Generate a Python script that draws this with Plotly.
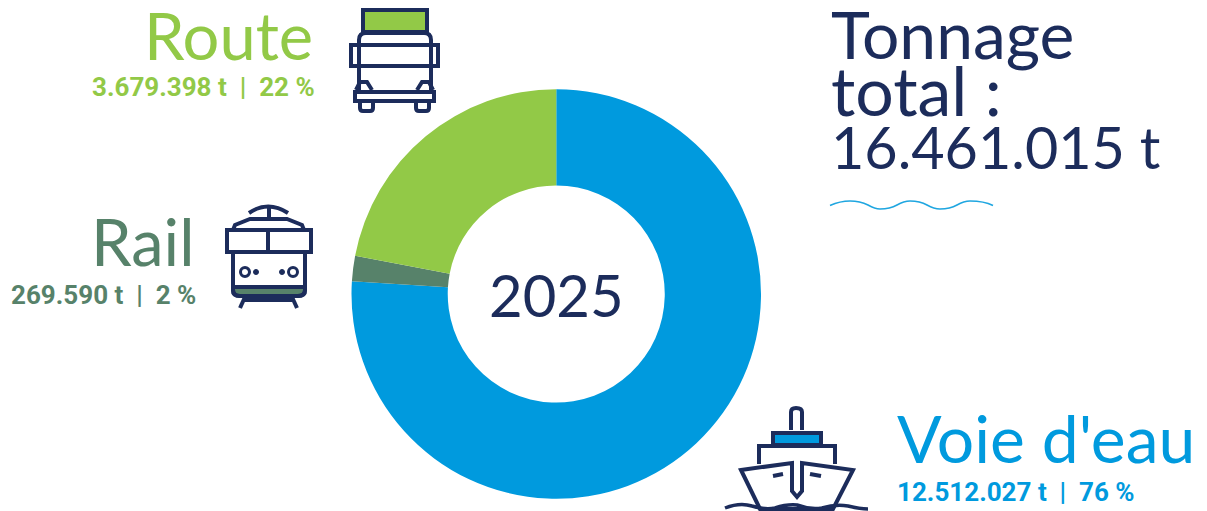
import plotly.graph_objects as go

categories = ["Voie d'eau", "Rail", "Route"]
tonnage = [12512027, 269590, 3679398]
share_pct = [76, 2, 22]
colors = ["#009ADE", "#57826A", "#92C947"]
stats = ["12.512.027 t  |  76 %", "269.590 t  |  2 %", "3.679.398 t  |  22 %"]
total_lines = ["Tonnage", "total :", "16.461.015 t"]
year = "2025"

W, H = 1207, 511
NAVY = "#1C2C5B"
BLUE, RAIL, ROAD = colors
TITLE_FONT = "Lato"
STAT_FONT = "Roboto"

fig = go.Figure(go.Pie(
    labels=categories, values=share_pct, customdata=tonnage, hole=0.53, sort=False,
    direction="clockwise", rotation=0, textinfo="none",
    hovertemplate="%{label}: %{customdata} t<extra></extra>",
    marker=dict(colors=colors, line=dict(width=0)),
    domain=dict(x=[351.5 / W, 761 / W], y=[1 - 499 / H, 1 - 89 / H]),
    showlegend=False,
))

shapes = []
def path(d, fill=None, color=NAVY, width=4):
    shapes.append(dict(type="path", path=d, xref="x", yref="y", layer="above",
                       fillcolor=fill or "rgba(0,0,0,0)",
                       line=dict(color=color, width=width)))
def rect(x0, y0, x1, y1, fill=None, width=4):
    path(f"M{x0},{y0} L{x1},{y0} L{x1},{y1} L{x0},{y1} Z", fill, NAVY, width)
def circle(cx, cy, r, fill=None, width=3):
    shapes.append(dict(type="circle", xref="x", yref="y", layer="above",
                       x0=cx - r, x1=cx + r, y0=cy - r, y1=cy + r,
                       fillcolor=fill or "rgba(0,0,0,0)",
                       line=dict(color=NAVY, width=width)))

# truck
rect(363, 10, 427, 32, ROAD)
path("M359,92 L359,40 Q359,33 366,33 L424,33 Q431,33 431,40 L431,92")
rect(351, 45, 438, 66)
rect(355, 92, 434, 101)
path("M356,90 L360,82 L367,82 L372,90")
path("M417,90 L422,82 L429,82 L433,90")
path("M360,102 L360,108 Q360,111 363,111 L370,111 Q373,111 373,108 L373,102")
path("M416,102 L416,108 Q416,111 419,111 L426,111 Q429,111 429,108 L429,102")

# train
path("M249,213 Q268,200 288,213")
path("M269,206 L269,219")
path("M233,230 L235,225 L250,219 L287,219 L302,225 L304,230")
rect(227, 230, 311, 252)
path("M268,230 L268,252")
path("M233,287 L305,287 L305,290 Q305,296 298,296 L240,296 Q233,296 233,290 Z", RAIL)
path("M233,252 L233,290 Q233,296 240,296 L298,296 Q305,296 305,290 L305,252")
circle(245, 272, 4.5)
circle(256, 272, 2.5, NAVY, 1)
circle(282, 272, 2.5, NAVY, 1)
circle(293, 272, 4.5)
path("M244,300 L292,300")
path("M245,297 L240,308")
path("M292,297 L297,308")

# ship
path("M791,430 L791,412 Q791,408 796,408 Q802,408 802,412 L802,430")
rect(773, 433, 821, 445, BLUE)
path("M759,464 L759,446 L835,446 L835,464")
path("M741,470 L792,463 L792,491 L797,497 L802,491 L802,463 L853,470 L833,509 L760,509 Z")
path("M773,476 L783,474")
path("M810,474 L821,476")
path("M725,508 Q740,502 752,506 Q765,510 775,508 Q787,504 797,505 Q810,510 822,508 "
     "Q835,504 848,506 Q860,509 868,509", width=3.5)

# wave under the total
path("M830,205.5 Q840,201 850,201 Q860,201 868,205 Q875,209 880,209 Q890,209 897,205 "
     "Q904,201 910,201 Q920,201 927,205 Q934,209 940,209 Q950,209 957,205 "
     "Q964,201 970,201 Q984,201 993,205.5", color="#1FA6E0", width=1.6)

def text(x, y, s, size, color, anchor, family):
    fig.add_annotation(x=x, y=y, text=s, xref="x", yref="y", xanchor=anchor, yanchor="middle",
                       showarrow=False, font=dict(family=family, size=size, color=color))

text(315, 35, categories[2], 65, ROAD, "right", TITLE_FONT)
text(196, 241, categories[1], 65, RAIL, "right", TITLE_FONT)
text(895, 437, categories[0], 66, BLUE, "left", TITLE_FONT)
text(317, 87, "<b>%s</b>" % stats[2], 26, ROAD, "right", STAT_FONT)
text(198, 295, "<b>%s</b>" % stats[1], 26, RAIL, "right", STAT_FONT)
text(895, 492, "<b>%s</b>" % stats[0], 26, BLUE, "left", STAT_FONT)
for line, y, size in zip(total_lines, [33, 89, 146], [66, 68, 57.5]):
    text(829, y, line, size, NAVY, "left", TITLE_FONT)
text(556, 294, year, 58, NAVY, "center", TITLE_FONT)

fig.update_layout(
    width=W, height=H, margin=dict(l=0, r=0, t=0, b=0), autosize=False,
    paper_bgcolor="white", plot_bgcolor="white", shapes=shapes,
    xaxis=dict(range=[0, W], visible=False, domain=[0, 1], fixedrange=True),
    yaxis=dict(range=[H, 0], visible=False, domain=[0, 1], fixedrange=True),
)
fig.write_html("out.html", config=dict(displayModeBar=False),
               post_script="document.body.style.margin='0';document.body.style.overflow='hidden';")
